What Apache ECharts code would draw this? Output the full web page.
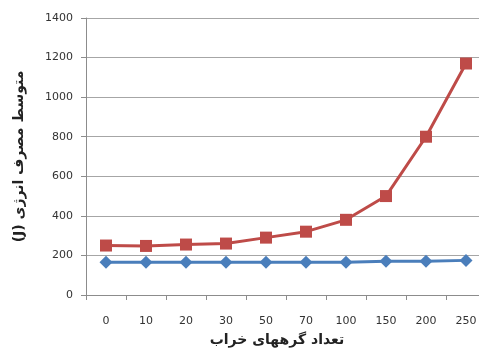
<!DOCTYPE html>
<html>
<head>
<meta charset="utf-8">
<script src="https://cdn.jsdelivr.net/npm/echarts@6/dist/echarts.min.js"></script>
<style>
  html, body { margin: 0; padding: 0; background: #fff; overflow: hidden; }
  #wrap { width: 479px; height: 352px; overflow: hidden; }
  /* plot area runs slightly past the right edge of the view */
  #chart { width: 486px; height: 352px; }
</style>
</head>
<body>
<div id="wrap"><div id="chart"></div></div>
<script>
// Number of faulty nodes (categories)
const categories = ['0', '10', '20', '30', '50', '70', '100', '150', '200', '250'];
// Average energy consumption for each scenario
const blueValues = [165, 165, 165, 165, 165, 165, 165, 170, 170, 175];
const redValues = [250, 248, 255, 260, 290, 320, 380, 500, 800, 1170];
const yTicks = { min: 0, max: 1400, interval: 200 };

const xName = 'تعداد گرههای خراب';
// unit placed first so it lands at the left end of the line
const yName = '(J) متوسط مصرف انرژی';

const chart = echarts.init(document.getElementById('chart'));
const font = 'DejaVu Sans, Tahoma, sans-serif';

chart.setOption({
  animation: false,
  grid: { left: 86, top: 18, right: 0, bottom: 57 },
  xAxis: {
    type: 'category',
    data: categories,
    boundaryGap: true,
    name: xName,
    nameLocation: 'middle',
    nameGap: 38,
    nameTextStyle: { fontFamily: font, fontSize: 14, fontWeight: 'bold', color: '#222', padding: [0, 18, 0, 0] },
    axisLine: { lineStyle: { color: '#8c8c8c', width: 1 } },
    axisTick: { show: true, length: 5, alignWithLabel: false, lineStyle: { color: '#8c8c8c' } },
    axisLabel: { fontFamily: font, fontSize: 11, color: '#333', margin: 21 }
  },
  yAxis: {
    type: 'value',
    min: yTicks.min,
    max: yTicks.max,
    interval: yTicks.interval,
    name: yName,
    nameLocation: 'middle',
    nameRotate: 90,
    nameGap: 60,
    nameTextStyle: { fontFamily: font, fontSize: 14, fontWeight: 'bold', color: '#222' },
    axisLine: { show: true, lineStyle: { color: '#8c8c8c', width: 1 } },
    axisTick: { show: true, length: 5, lineStyle: { color: '#8c8c8c' } },
    axisLabel: { fontFamily: font, fontSize: 11, color: '#333', margin: 13, formatter: v => String(v) },
    splitLine: { lineStyle: { color: '#a6a6a6', width: 1 } }
  },
  series: [
    {
      type: 'line',
      data: blueValues,
      symbol: 'diamond',
      symbolSize: 13,
      lineStyle: { color: '#4a7ebb', width: 3 },
      itemStyle: { color: '#4a7ebb' }
    },
    {
      type: 'line',
      data: redValues,
      symbol: 'rect',
      symbolSize: 12,
      lineStyle: { color: '#be4b48', width: 3 },
      itemStyle: { color: '#be4b48' }
    }
  ]
});
</script>
</body>
</html>
